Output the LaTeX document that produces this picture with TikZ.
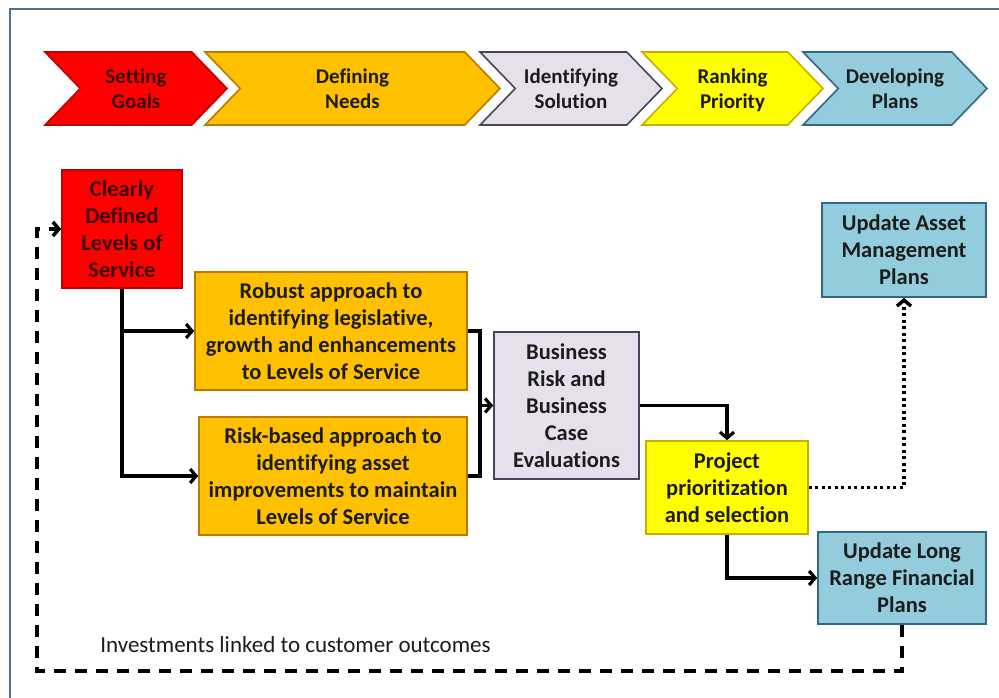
\documentclass[tikz,border=0pt]{standalone}
\usepackage{fontspec}
\setmainfont{Carlito}[Ligatures=NoCommon]
\usetikzlibrary{shapes.symbols,arrows.meta}
\definecolor{framecol}{HTML}{50708F}
\definecolor{redfill}{HTML}{FF0000}
\definecolor{redline}{HTML}{C00000}
\definecolor{orangefill}{HTML}{FFC000}
\definecolor{orangeline}{HTML}{B87A00}
\definecolor{lavfill}{HTML}{E6E0EC}
\definecolor{lavline}{HTML}{45455E}
\definecolor{yelfill}{HTML}{FFFF00}
\definecolor{yelline}{HTML}{C8AE00}
\definecolor{bluefill}{HTML}{93CDDD}
\definecolor{blueline}{HTML}{33678A}
\definecolor{darkred}{HTML}{3A0505}
\definecolor{txt}{HTML}{1C1C1C}
\tikzset{
  chevron/.style={signal, signal from=west, signal to=east, signal pointer angle=92,
    minimum height=73pt, inner sep=0pt, line width=1.6pt, align=center, text=txt,
    text depth=0pt, font=\fontsize{21}{25}\selectfont\bfseries},
  box/.style={draw, rectangle, inner sep=0pt, line width=1.6pt, align=center, text=txt,
    font=\fontsize{22.5}{27}\selectfont\bfseries},
  flow/.style={line width=3.2pt, -{Straight Barb[length=6pt,width=14pt]}},
  joinline/.style={line width=3.2pt},
  dotflow/.style={line width=3.5pt, dash pattern=on 3pt off 3.5pt, -{Straight Barb[length=6pt,width=14pt]}},
  dashflow/.style={line width=3.5pt, dash pattern=on 12pt off 9pt, -{Straight Barb[length=6pt,width=14pt]}}
}
\begin{document}
\begin{tikzpicture}[x=1pt, y=-1pt]
        \clip (0,0) rectangle (999,698);
        \fill[white] (0,0) rectangle (999,698);
        \draw[framecol, line width=2pt] (10,9) rectangle (1030,730);

        \node[chevron, fill=redfill, draw=redline, text=darkred, minimum width=182pt] (goals) at (136, 88.5) {Setting\\Goals};
        \node[chevron, fill=orangefill, draw=orangeline, minimum width=295pt] (needs) at (352.5, 88.5) {Defining\\Needs};
        \node[chevron, fill=lavfill, draw=lavline, minimum width=182pt] (solution) at (571, 88.5) {Identifying\\Solution};
        \node[chevron, fill=yelfill, draw=yelline, minimum width=181pt] (priority) at (732.5, 88.5) {Ranking\\Priority};
        \node[chevron, fill=bluefill, draw=blueline, minimum width=184pt] (plans) at (895, 88.5) {Developing\\Plans};

        \node[box, fill=redfill, draw=redline, text=darkred, minimum width=120pt, minimum height=118pt] (cdlos) at (122, 229) {Clearly\\Defined\\Levels of\\Service};
        \node[box, fill=orangefill, draw=orangeline, minimum width=272pt, minimum height=118pt] (robust) at (331, 331) {Robust approach to\\identifying legislative,\\growth and enhancements\\to Levels of Service};
        \node[box, fill=orangefill, draw=orangeline, minimum width=268pt, minimum height=118pt] (risk) at (333, 476) {Risk-based approach to\\identifying asset\\improvements to maintain\\Levels of Service};
        \node[box, fill=lavfill, draw=lavline, minimum width=145pt, minimum height=147pt] (business) at (566.5, 405.5) {Business\\Risk and\\Business\\Case\\Evaluations};
        \node[box, fill=yelfill, draw=yelline, minimum width=162pt, minimum height=93pt] (project) at (727, 487.5) {Project\\prioritization\\and selection};
        \node[box, fill=bluefill, draw=blueline, minimum width=164pt, minimum height=94pt] (uamp) at (904, 250) {Update Asset\\Management\\Plans};
        \node[box, fill=bluefill, draw=blueline, minimum width=168pt, minimum height=92pt] (lrfp) at (902, 578) {Update Long\\Range Financial\\Plans};
        \node[text=txt, font=\fontsize{23}{27}\selectfont] (invest) at (295.5, 645) {Investments linked to customer outcomes};

        \coordinate (merge) at (480, 405.5);
        \coordinate (loopleft) at (37, 671);

        \draw[flow] (cdlos.south) |- (robust.west);
        \draw[flow] (cdlos.south) |- (risk.west);
        \draw[joinline] (robust.east) -| (merge);
        \draw[joinline] (risk.east) -| (merge);
        \draw[flow] (merge) -- (business.west);
        \draw[flow] (business.east) -| (project.north);
        \draw[flow] (project.south) |- (lrfp.west);
        \draw[dotflow] (project.east) -| (uamp.south);
        \draw[dashflow] (lrfp.south) |- (loopleft) |- (cdlos.west);
    \end{tikzpicture}
\end{document}
